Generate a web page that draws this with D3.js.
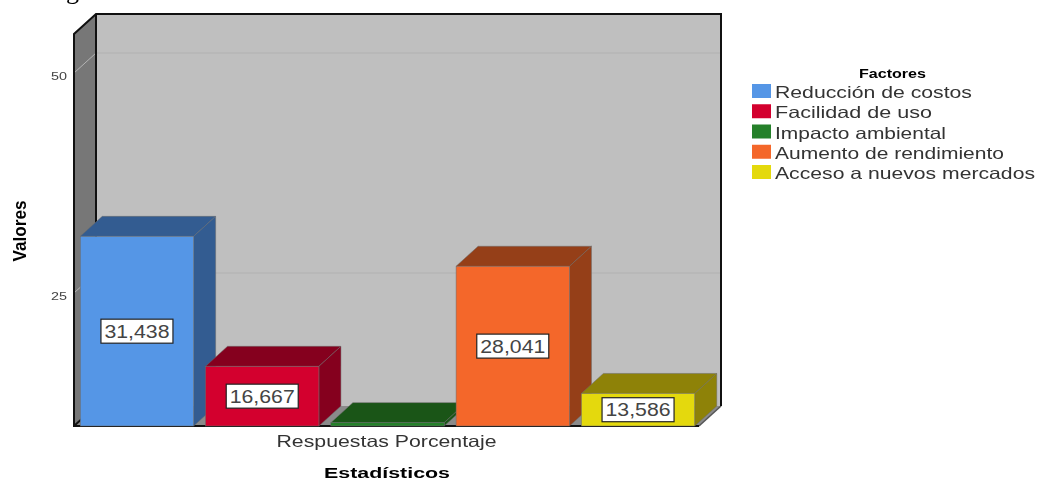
<!DOCTYPE html>
<html>
<head>
<meta charset="utf-8">
<script src="https://cdn.jsdelivr.net/npm/d3@7"></script>
<style>
  html, body { margin: 0; padding: 0; background: #fff; }
  svg { display: block; filter: blur(0.35px); }
  text { font-family: "Liberation Sans", Arial, sans-serif; }
</style>
</head>
<body>
<div id="chart-area"></div>
<script>
// data
const factors = ["Reducción de costos", "Facilidad de uso", "Impacto ambiental", "Aumento de rendimiento", "Acceso a nuevos mercados"]
const percents = [31.438, 16.667, 10.268, 28.041, 13.586]
const valueLabels = ["31,438", "16,667", null, "28,041", "13,586"]
const yTicks = [25, 50]
const groupNames = ["Respuestas Porcentaje"]

const frontColors = ["#5596e6", "#d3002e", "#25802a", "#f4672a", "#e4d90d"]
const topColors = ["#335c91", "#85001e", "#1a5517", "#953f18", "#8e8208"]
const legendWidths = [197, 157, 171, 229, 260]

const WIDTH = 1037
const HEIGHT = 481
const PLOT = { LEFT: 74, RIGHT: 699, BOTTOM: 426, TOP: 34 }
const DEPTH = { X: 22, Y: 20 }
const AXIS_MIN = 9.886

const svg = d3.select("#chart-area").append("svg")
  .attr("width", WIDTH)
  .attr("height", HEIGHT)

const y = d3.scaleLinear()
  .domain([AXIS_MIN, 50])
  .range([PLOT.BOTTOM, 73])

const x = d3.scaleBand()
  .domain(factors)
  .range([PLOT.LEFT, PLOT.RIGHT + 2])
  .paddingInner(0.095)
  .paddingOuter(0.05)

const xGroup = d3.scaleBand()
  .domain(groupNames)
  .range([PLOT.LEFT, PLOT.RIGHT])

const pts = a => a.map(p => p.join(",")).join(" ")

// Cut off caption letter at the very top
svg.append("text")
  .attr("x", 66)
  .attr("y", -1)
  .style("font-family", "'Liberation Serif', serif")
  .style("font-size", "26px")
  .text("g")

// Walls and floor
svg.append("polygon")
  .attr("points", pts([[PLOT.LEFT, PLOT.TOP], [PLOT.LEFT + DEPTH.X, PLOT.TOP - DEPTH.Y], [PLOT.LEFT + DEPTH.X, PLOT.BOTTOM - DEPTH.Y], [PLOT.LEFT, PLOT.BOTTOM]]))
  .attr("fill", "#777")
svg.append("rect")
  .attr("x", PLOT.LEFT + DEPTH.X)
  .attr("y", PLOT.TOP - DEPTH.Y)
  .attr("width", PLOT.RIGHT - PLOT.LEFT)
  .attr("height", PLOT.BOTTOM - PLOT.TOP)
  .attr("fill", "#bfbfbf")
svg.append("polygon")
  .attr("points", pts([[PLOT.LEFT, PLOT.BOTTOM], [PLOT.LEFT + DEPTH.X, PLOT.BOTTOM - DEPTH.Y], [PLOT.RIGHT + DEPTH.X, PLOT.BOTTOM - DEPTH.Y], [PLOT.RIGHT, PLOT.BOTTOM]]))
  .attr("fill", "#8a8a8a")

// Gridlines
yTicks.forEach(t => {
  svg.append("line")
    .attr("x1", PLOT.LEFT + DEPTH.X).attr("x2", PLOT.RIGHT + DEPTH.X)
    .attr("y1", y(t) - DEPTH.Y).attr("y2", y(t) - DEPTH.Y)
    .attr("stroke", "#b1b1b1")
    .attr("stroke-width", 1.2)
  svg.append("line")
    .attr("x1", PLOT.LEFT).attr("x2", PLOT.LEFT + DEPTH.X)
    .attr("y1", y(t)).attr("y2", y(t) - DEPTH.Y)
    .attr("stroke", "#b4b4b4")
    .attr("stroke-width", 1)
})

// Frame
svg.append("path")
  .attr("d", `M${PLOT.RIGHT},${PLOT.BOTTOM}L${PLOT.RIGHT + DEPTH.X},${PLOT.BOTTOM - DEPTH.Y}`)
  .attr("stroke", "#555")
  .attr("stroke-width", 1.5)
svg.append("path")
  .attr("d", `M${PLOT.RIGHT},${PLOT.BOTTOM}H${PLOT.LEFT}V${PLOT.TOP}L${PLOT.LEFT + DEPTH.X},${PLOT.TOP - DEPTH.Y}H${PLOT.RIGHT + DEPTH.X}V${PLOT.BOTTOM - DEPTH.Y}`)
  .attr("fill", "none")
  .attr("stroke", "#111")
  .attr("stroke-width", 2)
svg.append("path")
  .attr("d", `M${PLOT.LEFT + DEPTH.X},${PLOT.TOP - DEPTH.Y}V${PLOT.BOTTOM - DEPTH.Y}L${PLOT.LEFT},${PLOT.BOTTOM}`)
  .attr("fill", "none")
  .attr("stroke", "#111")
  .attr("stroke-width", 2)

// Bars, left to right so the later front faces cover the earlier sides
const bar = svg.selectAll(".bar")
  .data(factors)
  .enter().append("g")
  .attr("class", "bar")

bar.append("polygon")
  .attr("points", (d, i) => {
    const x0 = x(d), x1 = x0 + x.bandwidth(), t = y(percents[i])
    return pts([[x0, t], [x0 + DEPTH.X, t - DEPTH.Y], [x1 + DEPTH.X, t - DEPTH.Y], [x1, t]])
  })
  .attr("fill", (d, i) => topColors[i])
  .attr("stroke", "#6a6a6a")
  .attr("stroke-width", 0.5)

bar.append("polygon")
  .attr("points", (d, i) => {
    const x1 = x(d) + x.bandwidth(), t = y(percents[i])
    return pts([[x1, t], [x1 + DEPTH.X, t - DEPTH.Y], [x1 + DEPTH.X, PLOT.BOTTOM - DEPTH.Y], [x1, PLOT.BOTTOM]])
  })
  .attr("fill", (d, i) => topColors[i])
  .attr("stroke", "#6a6a6a")
  .attr("stroke-width", 0.5)

bar.append("rect")
  .attr("x", d => x(d))
  .attr("y", (d, i) => y(percents[i]))
  .attr("width", x.bandwidth())
  .attr("height", (d, i) => PLOT.BOTTOM - y(percents[i]))
  .attr("fill", (d, i) => frontColors[i])
  .attr("stroke", "#6a6a6a")
  .attr("stroke-width", 0.5)

// Value labels
const labelled = factors.map((d, i) => ({ d, i })).filter(o => valueLabels[o.i])
const label = svg.selectAll(".value")
  .data(labelled)
  .enter().append("g")
  .attr("class", "value")
  .attr("transform", o => `translate(${x(o.d) + x.bandwidth() / 2}, ${(y(percents[o.i]) + PLOT.BOTTOM) / 2})`)

label.append("rect")
  .attr("x", -36).attr("y", -12)
  .attr("width", 72).attr("height", 24)
  .attr("fill", "#fff")
  .attr("stroke", "#222")
  .attr("stroke-width", 1.2)

label.append("text")
  .attr("text-anchor", "middle")
  .attr("y", 6.5)
  .attr("textLength", 65)
  .attr("lengthAdjust", "spacingAndGlyphs")
  .style("font-size", "17.5px")
  .attr("fill", "#444")
  .text(o => valueLabels[o.i])

// Axes
const yAxisCall = d3.axisLeft(y)
  .tickValues(yTicks)
  .tickSize(0)
  .tickPadding(7)
  .tickFormat(d => d)

svg.append("g")
  .attr("class", "y axis")
  .attr("transform", `translate(${PLOT.LEFT}, 0)`)
  .call(yAxisCall)
  .call(g => g.select(".domain").remove())
  .selectAll("text")
    .attr("dy", "0.6em")
    .attr("textLength", 16)
    .attr("lengthAdjust", "spacingAndGlyphs")
    .attr("fill", "#444")
    .style("font-size", "11.5px")

const xAxisCall = d3.axisBottom(xGroup).tickSize(0).tickPadding(9)

svg.append("g")
  .attr("class", "x axis")
  .attr("transform", `translate(0, ${PLOT.BOTTOM})`)
  .call(xAxisCall)
  .call(g => g.select(".domain").remove())
  .selectAll("text")
    .attr("textLength", 220)
    .attr("lengthAdjust", "spacingAndGlyphs")
    .attr("fill", "#333")
    .style("font-size", "16.5px")

// Axis titles
svg.append("text")
  .attr("x", 387)
  .attr("y", 477.5)
  .attr("text-anchor", "middle")
  .attr("textLength", 126)
  .attr("lengthAdjust", "spacingAndGlyphs")
  .style("font-size", "15px")
  .style("font-weight", "bold")
  .text("Estadísticos")

svg.append("text")
  .attr("transform", "translate(26, 231) rotate(-90)")
  .attr("text-anchor", "middle")
  .attr("textLength", 61)
  .attr("lengthAdjust", "spacingAndGlyphs")
  .style("font-size", "19px")
  .style("font-weight", "bold")
  .text("Valores")

// Legend
svg.append("text")
  .attr("x", 892.5)
  .attr("y", 78)
  .attr("text-anchor", "middle")
  .attr("textLength", 67)
  .attr("lengthAdjust", "spacingAndGlyphs")
  .style("font-size", "12px")
  .style("font-weight", "bold")
  .text("Factores")

const legend = svg.selectAll(".legend")
  .data(factors)
  .enter().append("g")
  .attr("class", "legend")
  .attr("transform", (d, i) => `translate(752, ${98 + i * 20.25})`)

legend.append("rect")
  .attr("x", 0).attr("y", -14)
  .attr("width", 19).attr("height", 14)
  .attr("fill", (d, i) => frontColors[i])

legend.append("text")
  .attr("x", 23)
  .attr("y", 0)
  .attr("textLength", (d, i) => legendWidths[i])
  .attr("lengthAdjust", "spacingAndGlyphs")
  .attr("fill", "#333")
  .style("font-size", "16.5px")
  .text(d => d)
</script>
</body>
</html>
